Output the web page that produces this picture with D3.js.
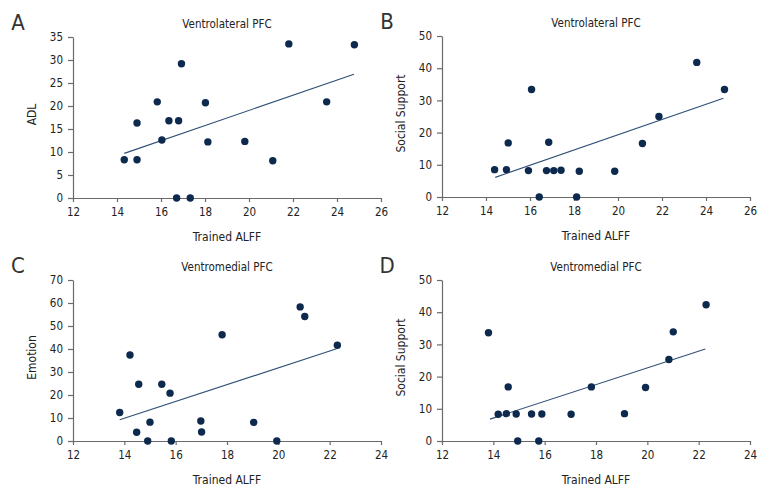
<!DOCTYPE html>
<html lang="en">
<head>
<meta charset="UTF-8">
<title>Trained ALFF scatter plots</title>
<script src="https://d3js.org/d3.v7.min.js"></script>
<style>
  html, body { margin: 0; padding: 0; background: #fff; overflow: hidden; }
  svg.chart { display: block; }
  svg text { font-family: "DejaVu Sans", sans-serif; font-stretch: condensed; fill: #222; }
  .axis path, .axis line { stroke: #6a6a6a; stroke-width: 1.2; }
  .axis text { font-size: 11.5px; fill: #222; }
</style>
</head>
<body>
<svg class="chart" width="780" height="504"></svg>
<script>
  // panel A: Ventrolateral PFC vs ADL
  const aX = [14.33, 14.91, 14.91, 15.83, 16.04, 16.36, 16.80, 16.93, 16.71, 17.33, 18.02, 18.13, 19.81, 21.08, 21.81, 23.53, 24.79];
  const aY = [8.3, 8.3, 16.3, 20.9, 12.6, 16.8, 16.8, 29.2, 0, 0, 20.7, 12.2, 12.3, 8.1, 33.5, 20.9, 33.3];
  const aFit = [[14.33, 9.7], [24.77, 26.9]];

  // panel B: Ventrolateral PFC vs Social Support
  const bX = [14.39, 14.93, 15.01, 15.93, 16.07, 16.42, 16.75, 16.85, 17.08, 17.41, 18.12, 18.24, 19.85, 21.11, 21.86, 23.58, 24.84];
  const bY = [8.5, 8.5, 16.8, 8.2, 33.4, 0, 8.2, 17.0, 8.2, 8.3, 0, 8.0, 8.0, 16.6, 25.0, 41.8, 33.4];
  const bFit = [[14.42, 6.1], [24.79, 30.7]];

  // panel C: Ventromedial PFC vs Emotion
  const cX = [13.82, 14.22, 14.48, 14.56, 14.91, 15.0, 15.46, 15.78, 15.83, 16.98, 17.01, 17.81, 19.04, 19.94, 20.85, 21.03, 22.30];
  const cY = [12.4, 37.4, 3.8, 24.7, 0, 8.2, 24.7, 20.8, 0, 8.7, 3.9, 46.2, 8.1, 0, 58.3, 54.1, 41.6];
  const cFit = [[13.82, 9.2], [22.27, 40.1]];

  // panel D: Ventromedial PFC vs Social Support
  const dX = [13.81, 14.19, 14.51, 14.58, 14.89, 14.95, 15.49, 15.77, 15.89, 17.03, 17.82, 19.11, 19.93, 20.84, 21.01, 22.29];
  const dY = [33.6, 8.3, 8.5, 16.8, 8.4, 0, 8.4, 0, 8.4, 8.3, 16.8, 8.5, 16.6, 25.3, 33.9, 42.3];
  const dFit = [[13.87, 6.8], [22.26, 28.6]];

  const xTicksTop = [12, 14, 16, 18, 20, 22, 24, 26];
  const xTicksBottom = [12, 14, 16, 18, 20, 22, 24];
  const yTicksADL = [0, 5, 10, 15, 20, 25, 30, 35];
  const yTicksSupport = [0, 10, 20, 30, 40, 50];
  const yTicksEmotion = [0, 10, 20, 30, 40, 50, 60, 70];

  const panels = [
    { letter: 'A', title: 'Ventrolateral PFC', ylab: 'ADL', xs: aX, ys: aY, fit: aFit, xt: xTicksTop, yt: yTicksADL, left: 73, top: 37 },
    { letter: 'B', title: 'Ventrolateral PFC', ylab: 'Social Support', xs: bX, ys: bY, fit: bFit, xt: xTicksTop, yt: yTicksSupport, left: 442, top: 36 },
    { letter: 'C', title: 'Ventromedial PFC', ylab: 'Emotion', xs: cX, ys: cY, fit: cFit, xt: xTicksBottom, yt: yTicksEmotion, left: 73, top: 280 },
    { letter: 'D', title: 'Ventromedial PFC', ylab: 'Social Support', xs: dX, ys: dY, fit: dFit, xt: xTicksBottom, yt: yTicksSupport, left: 442, top: 280 }
  ];

  const svg = d3.select('.chart');
  const innerWidth = 308;
  const innerHeight = 161;

  panels.forEach(p => {
    const g = svg.append('g')
      .attr('transform', `translate(${p.left}, ${p.top})`);

    const xScale = d3.scaleLinear()
      .domain(d3.extent(p.xt))
      .range([0, innerWidth]);
    const yScale = d3.scaleLinear()
      .domain(d3.extent(p.yt))
      .range([innerHeight, 0]);

    g.append('g').attr('class', 'axis')
      .attr('transform', `translate(0, ${innerHeight})`)
      .call(d3.axisBottom(xScale).tickValues(p.xt).tickSizeInner(4).tickSizeOuter(0).tickPadding(6));

    g.append('g').attr('class', 'axis')
      .call(d3.axisLeft(yScale).tickValues(p.yt).tickSizeInner(5).tickSizeOuter(0).tickPadding(5));

    // fitted line
    g.append('line')
      .attr('x1', xScale(p.fit[0][0]))
      .attr('y1', yScale(p.fit[0][1]))
      .attr('x2', xScale(p.fit[1][0]))
      .attr('y2', yScale(p.fit[1][1]))
      .attr('stroke', '#2f4f75')
      .attr('stroke-width', 1.1);

    const pts = p.xs.map((x, i) => ({ x: x, y: p.ys[i] }));
    g.selectAll('circle')
      .data(pts)
      .join('circle')
      .attr('cx', d => xScale(d.x))
      .attr('cy', d => yScale(d.y))
      .attr('r', 3.7)
      .attr('fill', '#0d2a4e');

    // titles and labels
    g.append('text')
      .attr('x', innerWidth / 2)
      .attr('y', -9)
      .attr('text-anchor', 'middle')
      .style('font-size', '11.5px')
      .text(p.title);

    g.append('text')
      .attr('x', innerWidth / 2)
      .attr('y', innerHeight + 43)
      .attr('text-anchor', 'middle')
      .style('font-size', '12px')
      .text('Trained ALFF');

    g.append('text')
      .attr('transform', `translate(${-37}, ${innerHeight / 2 - 3}) rotate(-90)`)
      .attr('text-anchor', 'middle')
      .style('font-size', '12px')
      .text(p.ylab);

    g.append('text')
      .attr('x', -55)
      .attr('y', -7.5)
      .attr('text-anchor', 'middle')
      .style('font-size', '22px')
      .style('fill', '#333')
      .text(p.letter);
  });
</script>
</body>
</html>
